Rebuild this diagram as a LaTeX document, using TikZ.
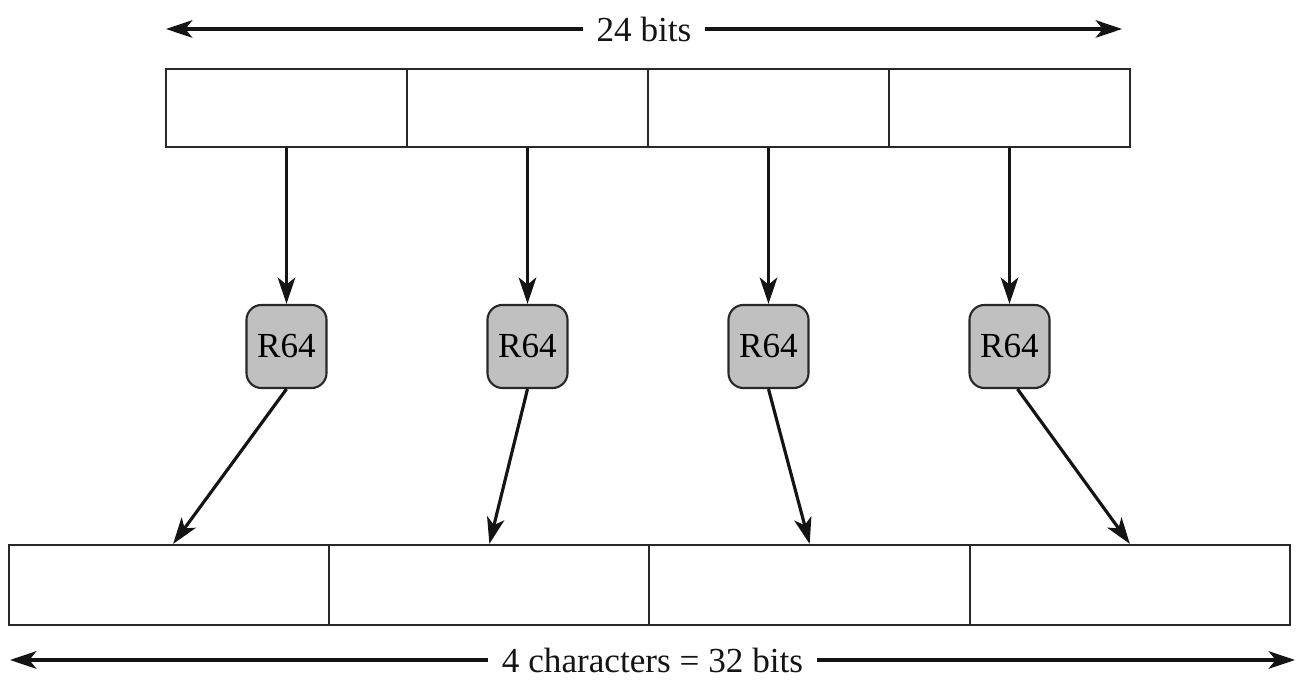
\documentclass[tikz,border=0pt]{standalone}
\usepackage{fontspec}
\setmainfont{Liberation Serif}
\usepackage{tikz}
\usetikzlibrary{arrows.meta, positioning, calc}
\definecolor{mydark}{RGB}{20,20,20}
\definecolor{myline}{RGB}{40,40,40}
\definecolor{rgray}{RGB}{192,192,192}
\tikzset{
  cell/.style={rectangle, draw=myline, fill=white, minimum width=2.41cm,
    minimum height=0.78cm, inner sep=0pt, line width=0.6pt},
  charcell/.style={rectangle, draw=myline, fill=white, minimum width=3.2025cm,
    minimum height=0.8cm, inner sep=0pt, line width=0.6pt},
  rbox/.style={rectangle, draw=myline, fill=rgray, minimum width=0.8cm,
    minimum height=0.83cm, inner sep=0pt, rounded corners=0.15cm,
    line width=0.6pt, font=\fontsize{10}{12}\selectfont},
  arrow/.style={-{Stealth[length=7.5pt, width=5pt, inset=2pt]},
    line width=0.9pt, color=mydark},
  dimarrow/.style={{Stealth[length=7.5pt, width=5pt, inset=2pt]}-{Stealth[length=7.5pt, width=5pt, inset=2pt]},
    line width=0.9pt, color=mydark},
  dimlabel/.style={fill=white, inner sep=4pt, text=mydark,
    font=\fontsize{10}{12}\selectfont}
}
\begin{document}
\begin{tikzpicture}[x=0.01cm, y=-0.01cm]
  \useasboundingbox (0,0) rectangle (1303,686);
  % 24-bit input block and 32-bit output block
  \foreach \i in {1,...,4} {
    \node[cell] (t\i) at ({166+241*(\i-0.5)},108) {};
    \node[charcell] (b\i) at ({9+320.25*(\i-0.5)},585) {};
    \node[rbox] (r\i) at ({166+241*(\i-0.5)},346.5) {R64};
    \draw[arrow] (t\i.south) -- (r\i.north);
  }
  \draw[arrow] (r1.south) -- ([xshift=0.04cm]b1.north);
  \draw[arrow] (r2.south) -- (b2.north);
  \draw[arrow] (r3.south) -- (b3.north);
  \draw[arrow] ([xshift=0.08cm]r4.south) -- (b4.north);
  % dimension arrows
  \coordinate (tl) at (166,29);
  \coordinate (tr) at (1122,29);
  \coordinate (bl) at (10,660);
  \coordinate (br) at (1295,660);
  \draw[dimarrow] (tl) -- (tr) node[midway, dimlabel] (toplbl) {24 bits};
  \draw[dimarrow] (bl) -- (br) node[midway, dimlabel] (botlbl) {4 characters = 32 bits};
\end{tikzpicture}
\end{document}
